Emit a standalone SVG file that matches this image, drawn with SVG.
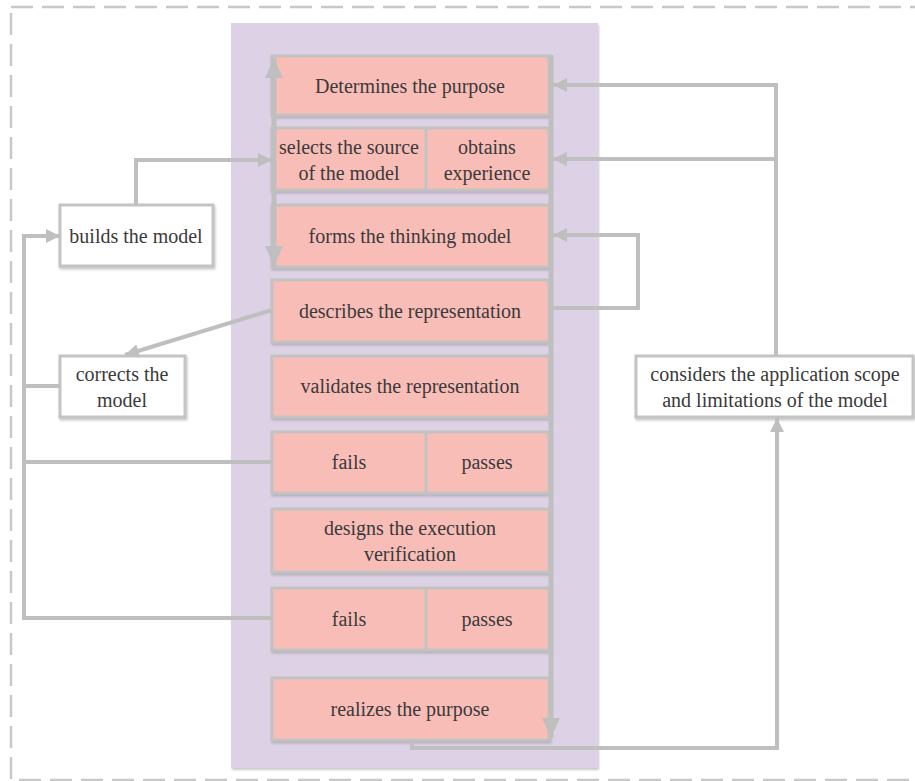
<svg xmlns="http://www.w3.org/2000/svg" width="915" height="781" viewBox="0 0 915 781">
<style>
  .t{font-family:"Liberation Serif","DejaVu Serif",serif;font-size:20px;fill:#3a3a3a;text-anchor:middle;}
  .pk{fill:#f9bdb8;stroke:#c2c2c2;stroke-width:3;filter:url(#sh);}
  .wb{fill:#ffffff;stroke:#c4c4c4;stroke-width:3;filter:url(#sh);}
  .dv{stroke:#c2c2c2;stroke-width:3;}
  .c{fill:none;stroke:#bfbfbf;stroke-width:4;stroke-linejoin:miter;}
  .cb{fill:none;stroke:#bfbfbf;stroke-width:5;}
</style>
<defs>
  <filter id="sh" x="-10%" y="-10%" width="120%" height="130%">
    <feDropShadow dx="1" dy="2" stdDeviation="1" flood-color="#888" flood-opacity="0.45"/>
  </filter>
  <marker id="a" viewBox="0 0 10 10" refX="10" refY="5" markerUnits="userSpaceOnUse" markerWidth="14" markerHeight="14" orient="auto">
    <path d="M0,0 L10,5 L0,10 z" fill="#bfbfbf"/>
  </marker>
  <marker id="ab" viewBox="0 0 10 10" refX="10" refY="5" markerUnits="userSpaceOnUse" markerWidth="20" markerHeight="18" orient="auto-start-reverse" preserveAspectRatio="none">
    <path d="M0,0 L10,5 L0,10 z" fill="#bfbfbf"/>
  </marker>
</defs>

<rect x="11" y="7" width="915" height="773" fill="none" stroke="#c8c8c8" stroke-width="2.5" stroke-dasharray="22 9"/>
<rect x="231" y="23" width="367" height="745" fill="#ddd1e5" filter="url(#sh)"/>

<g id="n1"><rect class="pk" x="272" y="56" width="277" height="59"/><text class="t" x="410" y="93">Determines the purpose</text></g>
<g id="n2"><rect class="pk" x="272" y="128" width="277" height="62"/><line class="dv" x1="426" y1="128" x2="426" y2="190"/>
  <text class="t" x="349" y="154">selects the source</text><text class="t" x="349" y="180">of the model</text>
  <text class="t" x="487" y="154">obtains</text><text class="t" x="487" y="180">experience</text></g>
<g id="n3"><rect class="pk" x="272" y="205" width="277" height="62"/><text class="t" x="410" y="243">forms the thinking model</text></g>
<g id="n4"><rect class="pk" x="272" y="280" width="277" height="62"/><text class="t" x="410" y="318">describes the representation</text></g>
<g id="n5"><rect class="pk" x="272" y="356" width="277" height="61"/><text class="t" x="410" y="393">validates the representation</text></g>
<g id="n6"><rect class="pk" x="272" y="432" width="277" height="61"/><line class="dv" x1="426" y1="432" x2="426" y2="493"/>
  <text class="t" x="349" y="469">fails</text><text class="t" x="487" y="469">passes</text></g>
<g id="n7"><rect class="pk" x="272" y="509" width="277" height="63"/><text class="t" x="410" y="535">designs the execution</text><text class="t" x="410" y="561">verification</text></g>
<g id="n8"><rect class="pk" x="272" y="588" width="277" height="62"/><line class="dv" x1="426" y1="588" x2="426" y2="650"/>
  <text class="t" x="349" y="626">fails</text><text class="t" x="487" y="626">passes</text></g>
<g id="n9"><rect class="pk" x="272" y="678" width="277" height="62"/><text class="t" x="410" y="716">realizes the purpose</text></g>

<g id="n10"><rect class="wb" x="60" y="205" width="153" height="61"/><text class="t" x="136" y="243">builds the model</text></g>
<g id="n11"><rect class="wb" x="60" y="356" width="125" height="61"/><text class="t" x="122" y="381">corrects the</text><text class="t" x="122" y="407">model</text></g>
<g id="n12"><rect class="wb" x="636" y="356" width="277" height="61"/><text class="t" x="775" y="381">considers the application scope</text><text class="t" x="775" y="407">and limitations of the model</text></g>

<g id="connectors">
  <line class="cb" x1="274" y1="58" x2="274" y2="266" marker-start="url(#ab)" marker-end="url(#ab)"/>
  <line class="cb" x1="551" y1="55" x2="551" y2="738" marker-end="url(#ab)"/>
  <path class="c" d="M776,356 V85 H553" marker-end="url(#a)"/>
  <path class="c" d="M776,159 H553" marker-end="url(#a)"/>
  <path class="c" d="M551,308 H638 V235 H553" marker-end="url(#a)"/>
  <path class="c" d="M412,740 V748 H777 V418" marker-end="url(#a)"/>
  <path class="c" d="M136,205 V160 H272" marker-end="url(#a)"/>
  <path class="c" d="M272,618 H24 V236 H60" marker-end="url(#a)"/>
  <path class="c" d="M272,462 H24"/>
  <path class="c" d="M60,386 H24"/>
  <path class="c" d="M272,310 L125,355" marker-end="url(#a)"/>
</g>
</svg>
